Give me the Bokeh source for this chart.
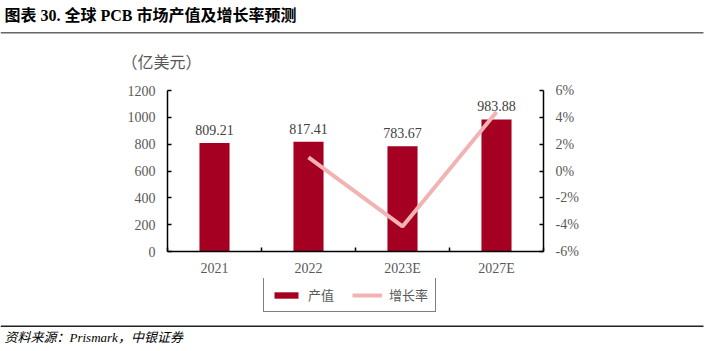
from bokeh.plotting import figure
from bokeh.layouts import column
from bokeh.models import (Range1d, LinearAxis, FixedTicker, PrintfTickFormatter, Label,
                          BoxAnnotation, Legend, LegendItem)
from bokeh.core.properties import value
from bokeh.embed import file_html
from bokeh.resources import INLINE

# ---- data ----
years = ["2021", "2022", "2023E", "2027E"]
output_value = [809.21, 817.41, 783.67, 983.88]      # 产值（亿美元）
growth_years = ["2022", "2023E", "2027E"]
growth_rate = [1.01, -4.13, 4.4]                     # 增长率 (%)
left_ticks = [0, 200, 400, 600, 800, 1000, 1200]
right_ticks = [-6, -4, -2, 0, 2, 4, 6]

title_text = "图表 30.  全球 PCB 市场产值及增长率预测"
unit_text = "（亿美元）"
source_text = "资料来源：Prismark，中银证券"
series_names = ["产值", "增长率"]

# ---- styles ----
BAR = "#A50021"
LINE = "#F2B3B3"
GREY = "#595959"
SERIF = "Liberation Serif, Times New Roman, Noto Sans CJK SC"
CJK = "Noto Sans CJK SC"
W = 716
NAN = float("nan")


def blank(height):
    f = figure(width=W, height=height, x_range=Range1d(0, W), y_range=Range1d(height, 0),
               output_backend="svg", toolbar_location=None,
               x_axis_location=None, y_axis_location=None, min_border=0,
               frame_align=False)
    f.outline_line_color = None
    f.xgrid.visible = False
    f.ygrid.visible = False
    return f


# ---------- header ----------
TOP_H = 80
top = blank(TOP_H)
top.add_layout(Label(x=4, y=15, text=title_text, text_font=SERIF, text_font_style="bold",
                     text_font_size="16px", text_color="black", text_baseline="middle"))
top.add_layout(BoxAnnotation(left=0, right=703, top=31.5, bottom=33, fill_color="#666666",
                             fill_alpha=1, line_color=None))
top.add_layout(Label(x=121, y=60, text=unit_text, text_font=CJK, text_font_size="16px",
                     text_color=GREY, text_baseline="middle"))

# ---------- main chart ----------
xpos = [i + 0.5 for i in range(len(years))]
gx = [years.index(y) + 0.5 for y in growth_years]

MAIN_H = 198
p = figure(width=W, height=MAIN_H, x_range=Range1d(0, len(years)),
           y_range=Range1d(left_ticks[0], left_ticks[-1]),
           output_backend="svg", toolbar_location=None, frame_align=False,
           min_border_left=167, min_border_right=173, min_border_top=10, min_border_bottom=26)
p.outline_line_color = None
p.xgrid.visible = False
p.ygrid.visible = False
p.extra_y_ranges = {"pct": Range1d(right_ticks[0], right_ticks[-1])}

bars = p.vbar(x=xpos, top=output_value, width=0.32, fill_color=BAR, line_color=None)
line = p.line(x=gx, y=growth_rate, y_range_name="pct", line_color=LINE, line_width=4)

p.text(x=xpos, y=output_value, text=[f"{v:.2f}" for v in output_value],
       y_offset=-8, text_align="center", text_baseline="bottom",
       text_font=value(SERIF), text_font_size="14px", text_color="#404040")

ya = p.yaxis[0]
ya.ticker = FixedTicker(ticks=left_ticks)
ya.major_tick_in = 4
ya.major_tick_out = 0
ya.minor_tick_line_color = None
ya.axis_line_color = "black"
ya.axis_line_width = 1.5
ya.major_tick_line_width = 1.5
ya.major_label_text_font = SERIF
ya.major_label_text_font_size = "14px"
ya.major_label_text_color = GREY
ya.major_label_standoff = 12

ra = LinearAxis(y_range_name="pct", ticker=FixedTicker(ticks=right_ticks),
                formatter=PrintfTickFormatter(format="%d%%"))
ra.major_tick_in = 4
ra.major_tick_out = 0
ra.minor_tick_line_color = None
ra.axis_line_color = "black"
ra.axis_line_width = 1.5
ra.major_tick_line_width = 1.5
ra.major_label_text_font = SERIF
ra.major_label_text_font_size = "14px"
ra.major_label_text_color = GREY
ra.major_label_standoff = 12
p.add_layout(ra, "right")

xa = p.xaxis[0]
xa.ticker = FixedTicker(ticks=xpos, minor_ticks=list(range(len(years) + 1)))
xa.major_label_overrides = {x: y for x, y in zip(xpos, years)}
xa.major_tick_line_color = None
xa.minor_tick_in = 4
xa.minor_tick_out = 0
xa.minor_tick_line_width = 1.5
xa.axis_line_color = "black"
xa.axis_line_width = 1.5
xa.major_label_text_font = SERIF
xa.major_label_text_font_size = "14px"
xa.major_label_text_color = GREY
xa.major_label_standoff = 3

# ---------- footer: legend + source ----------
BOT_H = 351 - TOP_H - MAIN_H
bot = blank(BOT_H)
# legend proxies (NaN data: nothing is drawn in the plot area)
lg_bar = bot.vbar(x=[NAN], top=[NAN], width=1, fill_color=BAR, line_color=None)
lg_line = bot.line(x=[NAN], y=[NAN], line_color=LINE, line_width=4)
legend = Legend(items=[LegendItem(label=series_names[0], renderers=[lg_bar]),
                       LegendItem(label=series_names[1], renderers=[lg_line])],
                orientation="horizontal", location=(263, BOT_H - 34),
                border_line_color="black", border_line_width=1.5,
                glyph_width=30, glyph_height=8, label_standoff=7, spacing=18,
                padding=7, margin=0,
                label_text_font=CJK, label_text_font_size="13px", label_text_color=GREY)
bot.add_layout(legend)
bot.add_layout(BoxAnnotation(left=0, right=703, top=47, bottom=48.5, fill_color="#222222",
                             fill_alpha=1, line_color=None))
bot.add_layout(Label(x=4, y=59, text=source_text, text_font=SERIF, text_font_style="italic",
                     text_font_size="13px", text_color="black", text_baseline="middle"))

layout = column(top, p, bot, spacing=0)
open("out.html", "w").write(file_html(layout, INLINE))
